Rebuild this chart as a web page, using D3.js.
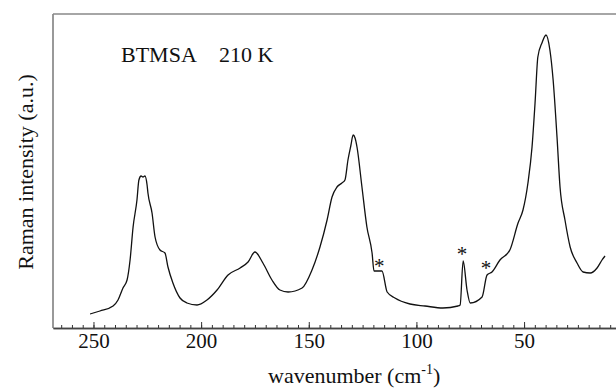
<!DOCTYPE html>
<html>
<head>
<meta charset="utf-8">
<script src="https://cdn.jsdelivr.net/npm/d3@7"></script>
<style>
  body { margin: 0; background: #fff; }
  svg { display: block; }
  text { font-family: "Liberation Serif", "Times New Roman", serif; fill: #111; }
</style>
</head>
<body>
<svg id="chart" width="616" height="388"></svg>
<script>
// spectrum: wavenumber (cm-1) and intensity (a.u.)
const wavenumber = [251.6, 247.0, 240.9, 238.6, 236.3, 234.4, 233.0, 231.6, 229.8, 228.9,
  227.9, 227.0, 226.1, 225.1, 224.7, 222.8, 221.4, 219.1, 216.8, 215.4,
  213.1, 209.8, 206.6, 201.9, 197.3, 192.6, 187.5, 181.9, 178.2, 175.0,
  171.3, 167.1, 163.4, 159.6, 153.1, 148.5, 144.8, 141.5, 139.2, 136.9,
  134.6, 133.2, 131.8, 130.4, 129.4, 128.5, 127.6, 125.3, 123.0, 120.6,
  119.7, 116.0, 113.6, 110.0, 103.0, 96.0, 87.7, 80.7, 79.7, 78.3,
  76.5, 75.0, 69.5, 67.2, 64.9, 61.2, 56.6, 52.8, 50.5, 48.2,
  46.3, 44.9, 43.6, 41.7, 39.8, 38.0, 36.5, 34.7, 33.3, 31.0,
  28.6, 25.4, 22.6, 19.3, 16.1, 13.8, 12.4];
const intensity = [14, 17, 22, 28, 40, 48, 68, 101, 128, 148,
  152, 151, 152, 143, 135, 115, 91, 78, 75, 61,
  45, 30, 25, 23, 28, 38, 53, 60, 66, 76,
  65, 48, 38, 36, 40, 58, 81, 108, 131, 141,
  145, 148, 168, 183, 193, 190, 181, 141, 101, 75,
  57, 57, 36, 30, 24, 22, 20, 22, 23, 67,
  38, 25, 31, 53, 56, 68, 78, 105, 118, 145,
  181, 225, 271, 285, 293, 278, 248, 191, 141, 108,
  81, 65, 56, 55, 60, 68, 72];

// asterisk marks (instrumental lines)
const starWave = [117.3, 78.8, 67.7];
const starHeight = [65, 77, 63];

const majorTicks = [250, 200, 150, 100, 50];
const minorTicks = d3.range(5, 270, 5);

const svg = d3.select('#chart');
const padL = 53, padR = 616, padT = 14, padB = 328;

const x = d3.scaleLinear().domain([268.8, 7.3]).range([padL, padR]);
const y = d3.scaleLinear().domain([0, 314]).range([padB, padT]);

// frame: left and top lines
svg.append('line')
  .attr('x1', padL).attr('x2', padL).attr('y1', padT).attr('y2', padB)
  .attr('stroke', '#777').attr('stroke-width', 1.5);
svg.append('line')
  .attr('x1', padL).attr('x2', padR).attr('y1', padT).attr('y2', padT)
  .attr('stroke', '#888').attr('stroke-width', 1.5);

// bottom axis, ticks pointing inward
const minorAxis = svg.append('g')
  .attr('transform', `translate(0,${padB})`)
  .call(d3.axisBottom(x).tickValues(minorTicks).tickSize(-3).tickFormat('').tickSizeOuter(0));
const majorAxis = svg.append('g')
  .attr('transform', `translate(0,${padB})`)
  .call(d3.axisBottom(x).tickValues(majorTicks).tickSize(-6).tickPadding(5).tickSizeOuter(0));

[minorAxis, majorAxis].forEach(g => {
  g.select('.domain').attr('stroke', '#444').attr('stroke-width', 1.3);
  g.selectAll('.tick line').attr('stroke', '#333').attr('stroke-width', 1);
});
majorAxis.selectAll('.tick text')
  .style('font-family', '"Liberation Serif", "Times New Roman", serif')
  .attr('font-size', 21).attr('fill', '#111');

// spectrum line
const pts = wavenumber.map((w, i) => [w, intensity[i]]);
const line = d3.line()
  .x(d => x(d[0]))
  .y(d => y(d[1]))
  .curve(d3.curveMonotoneX);

svg.append('path')
  .attr('d', line(pts))
  .attr('fill', 'none')
  .attr('stroke', '#111')
  .attr('stroke-width', 1.3)
  .attr('stroke-linejoin', 'round');

// asterisks
svg.selectAll('text.star')
  .data(starWave)
  .enter()
  .append('text')
  .attr('class', 'star')
  .attr('x', d => x(d))
  .attr('y', (d, i) => y(starHeight[i]) + 10)
  .attr('text-anchor', 'middle')
  .attr('font-size', 21)
  .text('*');

// title
svg.append('text').attr('x', 121).attr('y', 62).attr('font-size', 22).text('BTMSA');
svg.append('text').attr('x', 219).attr('y', 62).attr('font-size', 22).text('210 K');

// axis labels
svg.append('text')
  .attr('transform', 'translate(33,172) rotate(-90)')
  .attr('text-anchor', 'middle')
  .attr('font-size', 22)
  .text('Raman intensity (a.u.)');

const xl = svg.append('text')
  .attr('x', 268).attr('y', 383)
  .attr('font-size', 22);
xl.append('tspan').text('wavenumber (cm');
xl.append('tspan').attr('dy', -9).attr('font-size', 14).text('-1');
xl.append('tspan').attr('dy', 9).text(')');
</script>
</body>
</html>
